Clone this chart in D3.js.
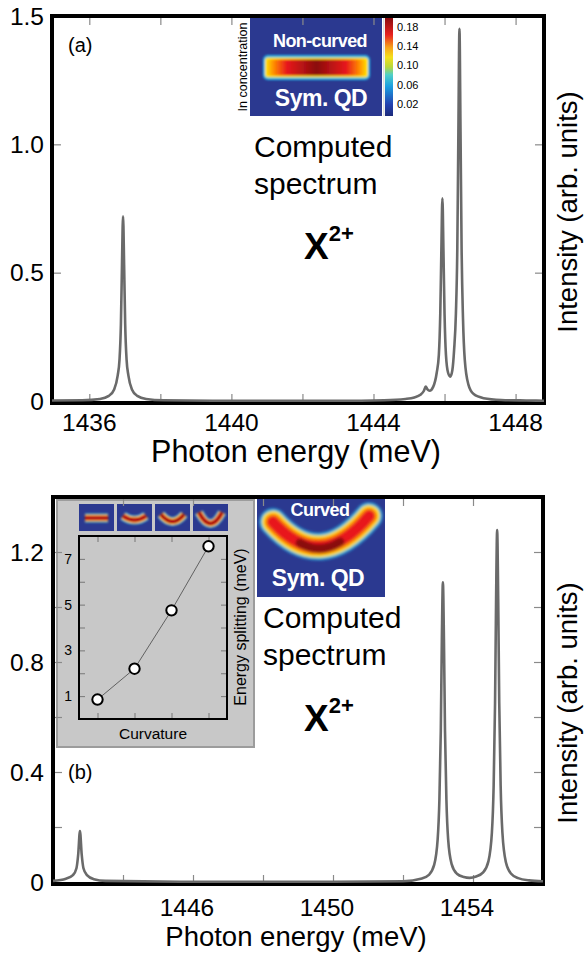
<!DOCTYPE html>
<html>
<head>
<meta charset="utf-8">
<script src="https://cdn.jsdelivr.net/npm/d3@7"></script>
<style>
html, body { margin: 0; padding: 0; background: #fff; }
svg { display: block; font-family: "Liberation Sans", Arial, Helvetica, sans-serif; }
</style>
</head>
<body>
<div id="chart"></div>
<script>
//Panel (a) spectrum
var topEnergy = [1434.95, 1435.8, 1436.3, 1436.55, 1436.7, 1436.8, 1436.85, 1436.89, 1436.92, 1436.95,
    1436.98, 1437.01, 1437.05, 1437.1, 1437.2, 1437.35, 1437.6, 1438.1, 1440.0, 1443.0,
    1444.3, 1444.9, 1445.15, 1445.32, 1445.42, 1445.47, 1445.52, 1445.58, 1445.68, 1445.78,
    1445.84, 1445.88, 1445.91, 1445.94, 1445.97, 1446.0, 1446.04, 1446.1, 1446.16, 1446.22,
    1446.27, 1446.32, 1446.36, 1446.39, 1446.42, 1446.45, 1446.48, 1446.52, 1446.57, 1446.67,
    1446.82, 1447.1, 1447.6, 1448.3, 1448.8];
var topIntensity = [0.002, 0.003, 0.008, 0.02, 0.045, 0.1, 0.16, 0.3, 0.53, 0.72,
    0.53, 0.3, 0.16, 0.1, 0.045, 0.02, 0.008, 0.003, 0.001, 0.001,
    0.003, 0.008, 0.014, 0.024, 0.04, 0.056, 0.045, 0.04, 0.055, 0.11,
    0.18, 0.34, 0.58, 0.79, 0.58, 0.34, 0.18, 0.11, 0.095, 0.12,
    0.2, 0.34, 0.6, 1.05, 1.45, 1.05, 0.6, 0.32, 0.16, 0.065,
    0.027, 0.011, 0.004, 0.002, 0.001];

//Panel (b) spectrum
var botEnergy = [1442.0, 1442.37, 1442.57, 1442.67, 1442.72, 1442.77, 1442.82, 1442.87, 1442.97, 1443.17,
    1443.5, 1446.0, 1450.0, 1452.0, 1452.54, 1452.74, 1452.89, 1452.99, 1453.04, 1453.08,
    1453.11, 1453.14, 1453.17, 1453.2, 1453.24, 1453.29, 1453.39, 1453.54, 1453.74, 1453.9,
    1454.09, 1454.29, 1454.44, 1454.54, 1454.59, 1454.63, 1454.66, 1454.69, 1454.72, 1454.75,
    1454.79, 1454.84, 1454.94, 1455.09, 1455.29, 1455.6, 1456.0];
var botIntensity = [0.004, 0.012, 0.025, 0.05, 0.1, 0.185, 0.1, 0.05, 0.025, 0.01,
    0.004, 0.001, 0.001, 0.003, 0.013, 0.026, 0.062, 0.155, 0.3, 0.55,
    0.88, 1.09, 0.88, 0.55, 0.3, 0.155, 0.065, 0.03, 0.018, 0.015,
    0.02, 0.035, 0.075, 0.18, 0.35, 0.65, 1.03, 1.28, 1.03, 0.65,
    0.35, 0.18, 0.072, 0.03, 0.014, 0.006, 0.003];

//Axis ticks and labels
var topXTicks = [1436, 1438, 1440, 1442, 1444, 1446, 1448];
var topXLabels = [1436, 1440, 1444, 1448];
var topYTicks = [0.5, 1.0];
var topYLabels = ["0", "0.5", "1.0", "1.5"];
var botXTicks = [1444, 1446, 1448, 1450, 1452, 1454];
var botXLabels = [1446, 1450, 1454];
var botYTicks = [0.2, 0.4, 0.6, 0.8, 1.0, 1.2];
var botYLabels = ["0", "0.4", "0.8", "1.2"];

//Inset: energy splitting vs curvature
var curvature = [1, 2, 3, 4];
var splitting = [0.85, 2.2, 4.75, 7.55];
var insetYTicks = [1, 2, 3, 4, 5, 6, 7];
var insetYLabels = [1, 3, 5, 7];

//Colour bar labels
var barLabels = ["0.02", "0.06", "0.10", "0.14", "0.18"];
var barValues = [0.02, 0.06, 0.10, 0.14, 0.18];

var width = 586, height = 956;
var navy = "#2b3990";

var svg = d3.select("#chart").append("svg")
    .attr("width", width)
    .attr("height", height);

var defs = svg.append("defs");
//blur filters in user space so flat shapes still show
function blurFilter(id, sd) {
    defs.append("filter").attr("id", id)
        .attr("filterUnits", "userSpaceOnUse")
        .attr("x", 0).attr("y", 0).attr("width", width).attr("height", height)
        .append("feGaussianBlur").attr("stdDeviation", sd);
}
blurFilter("soft", 1.6);
blurFilter("softer", 0.9);

var barGrad = defs.append("linearGradient").attr("id", "barGrad")
    .attr("x1", 0).attr("x2", 1).attr("y1", 0).attr("y2", 0);
[[0, "#ffd400"], [0.07, "#ff8a00"], [0.2, "#e8191c"], [0.5, "#8a0c0c"],
 [0.8, "#e8191c"], [0.93, "#ff8a00"], [1, "#ffd400"]].forEach(function(s) {
    barGrad.append("stop").attr("offset", s[0]).attr("stop-color", s[1]);
});

var cbGrad = defs.append("linearGradient").attr("id", "cbGrad")
    .attr("x1", 0).attr("x2", 0).attr("y1", 1).attr("y2", 0);
[[0, "#1c2a7a"], [0.12, "#2341b0"], [0.3, "#1b9ee0"], [0.42, "#4fd0c8"],
 [0.5, "#b7d83a"], [0.6, "#f5e01c"], [0.7, "#f7a21b"], [0.83, "#e8211f"], [1, "#8a0c10"]].forEach(function(s) {
    cbGrad.append("stop").attr("offset", s[0]).attr("stop-color", s[1]);
});

//Draw one spectrum panel
function drawPanel(cfg) {
    var x = d3.scaleLinear().domain(cfg.xDomain).range([cfg.left, cfg.right]);
    var y = d3.scaleLinear().domain(cfg.yDomain).range([cfg.zeroY, cfg.top]);
    var g = svg.append("g");

    cfg.decorate(g);

    //inward ticks on all four sides
    var tickCol = "#8a8a8a";
    var ax = [
        [d3.axisBottom(x).tickValues(cfg.xTicks), "translate(0," + (cfg.bottom - 2) + ")"],
        [d3.axisTop(x).tickValues(cfg.xTicks), "translate(0," + (cfg.top + 2) + ")"],
        [d3.axisLeft(y).tickValues(cfg.yTicks), "translate(" + (cfg.left + 2) + ",0)"],
        [d3.axisRight(y).tickValues(cfg.yTicks), "translate(" + (cfg.right - 2) + ",0)"]
    ];
    ax.forEach(function(a) {
        var t = g.append("g").attr("transform", a[1])
            .call(a[0].tickSize(-7).tickFormat(""));
        t.select(".domain").remove();
        t.selectAll("line").attr("stroke", tickCol).attr("stroke-width", 1.2);
    });

    //frame
    g.append("rect")
        .attr("x", cfg.left).attr("y", cfg.top)
        .attr("width", cfg.right - cfg.left).attr("height", cfg.bottom - cfg.top)
        .attr("fill", "none").attr("stroke", "#000").attr("stroke-width", 4);

    //spectrum
    var pts = cfg.energy.map(function(e, i) { return [e, cfg.intensity[i]]; });
    var line = d3.line()
        .x(function(d) { return x(d[0]); })
        .y(function(d) { return y(d[1]); })
        .curve(d3.curveMonotoneX);
    g.append("path").datum(pts)
        .attr("d", line)
        .attr("fill", "none")
        .attr("stroke", "#6a6a6a")
        .attr("stroke-width", 2.6)
        .attr("stroke-linejoin", "round");

    //tick labels
    g.selectAll(".xl").data(cfg.xLabels).enter().append("text")
        .attr("x", function(d) { return x(d) + cfg.xLabelShift; })
        .attr("y", cfg.xLabelY)
        .attr("text-anchor", "middle")
        .attr("font-size", 24.5)
        .text(function(d) { return d; });
    g.selectAll(".yl").data(cfg.yLabels).enter().append("text")
        .attr("x", 44)
        .attr("y", function(d) { return y(+d); })
        .attr("dy", "0.36em")
        .attr("text-anchor", "end")
        .attr("font-size", 24.5)
        .text(function(d) { return d; });

    //axis titles
    g.append("text")
        .attr("x", 296).attr("y", cfg.titleY)
        .attr("text-anchor", "middle")
        .attr("font-size", cfg.titleSize)
        .text("Photon energy (meV)");
    g.append("text")
        .attr("transform", "translate(" + 577 + "," + cfg.yTitleY + ") rotate(-90)")
        .attr("text-anchor", "middle")
        .attr("font-size", 27.5)
        .text("Intensity (arb. units)");

    //annotations
    g.append("text").attr("x", 68).attr("y", cfg.tagY)
        .attr("font-size", 20).text(cfg.tag);
    g.append("text").attr("x", cfg.compX).attr("y", cfg.compY)
        .attr("font-size", 30).text("Computed");
    g.append("text").attr("x", cfg.compX).attr("y", cfg.compY + 37)
        .attr("font-size", 30).text("spectrum");
    var xt = g.append("text").attr("x", 304).attr("y", cfg.xSymY)
        .attr("font-size", 37).attr("font-weight", "bold").text("X");
    xt.append("tspan").attr("font-size", 22).attr("dy", -18).text("2+");
}

//Panel (a)
drawPanel({
    left: 52, right: 544, top: 16, bottom: 403, zeroY: 401,
    xDomain: [1434.95, 1448.8], yDomain: [0, 1.5],
    xTicks: topXTicks, yTicks: topYTicks,
    xLabels: topXLabels, yLabels: topYLabels, xLabelY: 431, xLabelShift: 0,
    titleY: 462, titleSize: 30.5, yTitleY: 212,
    energy: topEnergy, intensity: topIntensity,
    tag: "(a)", tagY: 52,
    compX: 254, compY: 157, xSymY: 259,
    decorate: function(g) {
        //concentration map, non-curved dot
        g.append("rect").attr("x", 250).attr("y", 18).attr("width", 132).attr("height", 98).attr("fill", navy);
        var hm = g.append("g").attr("filter", "url(#softer)");
        hm.append("rect").attr("x", 263).attr("y", 55).attr("width", 107).attr("height", 25).attr("rx", 5).attr("fill", "#29b6e8");
        hm.append("rect").attr("x", 265).attr("y", 57.5).attr("width", 103).attr("height", 20).attr("rx", 3).attr("fill", "#ffe21a");
        hm.append("rect").attr("x", 267).attr("y", 59.5).attr("width", 99).attr("height", 16).attr("rx", 2).attr("fill", "url(#barGrad)");
        g.append("text").attr("x", 320).attr("y", 47).attr("text-anchor", "middle")
            .attr("font-size", 18).attr("font-weight", "bold").attr("fill", "#fff")
            .attr("letter-spacing", -0.6).text("Non-curved");
        g.append("text").attr("x", 321).attr("y", 106).attr("text-anchor", "middle")
            .attr("font-size", 23).attr("font-weight", "bold").attr("fill", "#fff")
            .attr("letter-spacing", -0.5).text("Sym. QD");
        g.append("text").attr("transform", "translate(247,67) rotate(-90)")
            .attr("text-anchor", "middle").attr("font-size", 12.5).text("In concentration");
        //colour bar
        g.append("rect").attr("x", 383).attr("y", 18).attr("width", 1.5).attr("height", 98).attr("fill", "#ddd");
        g.append("rect").attr("x", 385).attr("y", 18).attr("width", 8).attr("height", 98).attr("fill", "url(#cbGrad)");
        var cb = d3.scaleLinear().domain([0.02, 0.18]).range([104, 27]);
        g.selectAll(".cbl").data(barValues).enter().append("text")
            .attr("x", 397).attr("y", function(d) { return cb(d); })
            .attr("dy", "0.36em").attr("font-size", 11)
            .text(function(d, i) { return barLabels[i]; });
    }
});

//Panel (b)
drawPanel({
    left: 53, right: 543, top: 497, bottom: 884, zeroY: 882,
    xDomain: [1442, 1456], yDomain: [0, 1.4],
    xTicks: botXTicks, yTicks: botYTicks,
    xLabels: botXLabels, yLabels: botYLabels, xLabelY: 916, xLabelShift: -6,
    titleY: 946, titleSize: 27.5, yTitleY: 703,
    energy: botEnergy, intensity: botIntensity,
    tag: "(b)", tagY: 779,
    compX: 263, compY: 628, xSymY: 731,
    decorate: function(g) {
        //curved concentration map
        g.append("rect").attr("x", 257).attr("y", 498).attr("width", 128).attr("height", 99).attr("fill", navy);
        var hm = g.append("g").attr("filter", "url(#soft)").attr("fill", "none").attr("stroke-linecap", "round");
        var arc = "M273,522 Q320,574 369,516";
        [["#29b6e8", 27], ["#ffe21a", 22], ["#ff8a00", 17], ["#e8191c", 12]].forEach(function(s) {
            hm.append("path").attr("d", arc).attr("stroke", s[0]).attr("stroke-width", s[1]);
        });
        hm.append("path").attr("d", "M300,543 Q320,555 340,542").attr("stroke", "#8a0c0c").attr("stroke-width", 9);
        g.append("text").attr("x", 320).attr("y", 516).attr("text-anchor", "middle")
            .attr("font-size", 18).attr("font-weight", "bold").attr("fill", "#fff")
            .attr("letter-spacing", -0.5).text("Curved");
        g.append("text").attr("x", 318).attr("y", 586).attr("text-anchor", "middle")
            .attr("font-size", 23).attr("font-weight", "bold").attr("fill", "#fff")
            .attr("letter-spacing", -0.5).text("Sym. QD");

        //inset box
        g.append("rect").attr("x", 57).attr("y", 500).attr("width", 197).attr("height", 247)
            .attr("fill", "#c8c8c8").attr("stroke", "#9c9c9c").attr("stroke-width", 2);

        //small concentration maps of growing curvature
        [0, 4, 7, 11].forEach(function(c, i) {
            var bx = 79 + i * 38, by = 504;
            g.append("rect").attr("x", bx).attr("y", by).attr("width", 35).attr("height", 27).attr("fill", navy);
            var mg = g.append("g").attr("filter", "url(#softer)").attr("fill", "none");
            var p = "M" + (bx + 6) + "," + (by + 14 - c / 2) + " Q" + (bx + 17.5) + "," + (by + 14 + 1.5 * c) + " " + (bx + 29) + "," + (by + 14 - c / 2);
            [["#29b6e8", 9], ["#ffe21a", 7], ["#e8191c", 5], ["#8a0c0c", 2]].forEach(function(s) {
                mg.append("path").attr("d", p).attr("stroke", s[0]).attr("stroke-width", s[1]);
            });
        });

        //splitting vs curvature plot
        var ix = d3.scaleLinear().domain([0.5, 4.5]).range([79, 227]);
        var iy = d3.scaleLinear().domain([0, 8]).range([719, 536]);
        var ig = g.append("g");
        var iax = [
            [d3.axisLeft(iy).tickValues(insetYTicks), "translate(80,0)"],
            [d3.axisRight(iy).tickValues(insetYTicks), "translate(226,0)"],
            [d3.axisTop(ix).tickValues(curvature), "translate(0,537)"],
            [d3.axisBottom(ix).tickValues(curvature), "translate(0,718)"]
        ];
        iax.forEach(function(a) {
            var t = ig.append("g").attr("transform", a[1]).call(a[0].tickSize(-5).tickFormat(""));
            t.select(".domain").remove();
            t.selectAll("line").attr("stroke", "#777").attr("stroke-width", 1);
        });
        ig.append("rect").attr("x", 79).attr("y", 536).attr("width", 148).attr("height", 183)
            .attr("fill", "none").attr("stroke", "#000").attr("stroke-width", 2);
        var pts = curvature.map(function(c, i) { return [c, splitting[i]]; });
        ig.append("path").datum(pts)
            .attr("d", d3.line().x(function(d) { return ix(d[0]); }).y(function(d) { return iy(d[1]); }))
            .attr("fill", "none").attr("stroke", "#555").attr("stroke-width", 0.9);
        ig.selectAll("circle").data(pts).enter().append("circle")
            .attr("cx", function(d) { return ix(d[0]); })
            .attr("cy", function(d) { return iy(d[1]); })
            .attr("r", 5.2).attr("fill", "#fff").attr("stroke", "#000").attr("stroke-width", 2);
        ig.selectAll(".iyl").data(insetYLabels).enter().append("text")
            .attr("x", 72).attr("y", function(d) { return iy(d); })
            .attr("dy", "0.36em").attr("text-anchor", "end").attr("font-size", 14)
            .text(function(d) { return d; });
        ig.append("text").attr("x", 153).attr("y", 739).attr("text-anchor", "middle")
            .attr("font-size", 15.5).text("Curvature");
        ig.append("text").attr("transform", "translate(246,627) rotate(-90)")
            .attr("text-anchor", "middle").attr("font-size", 16).text("Energy splitting (meV)");
    }
});
</script>
</body>
</html>
